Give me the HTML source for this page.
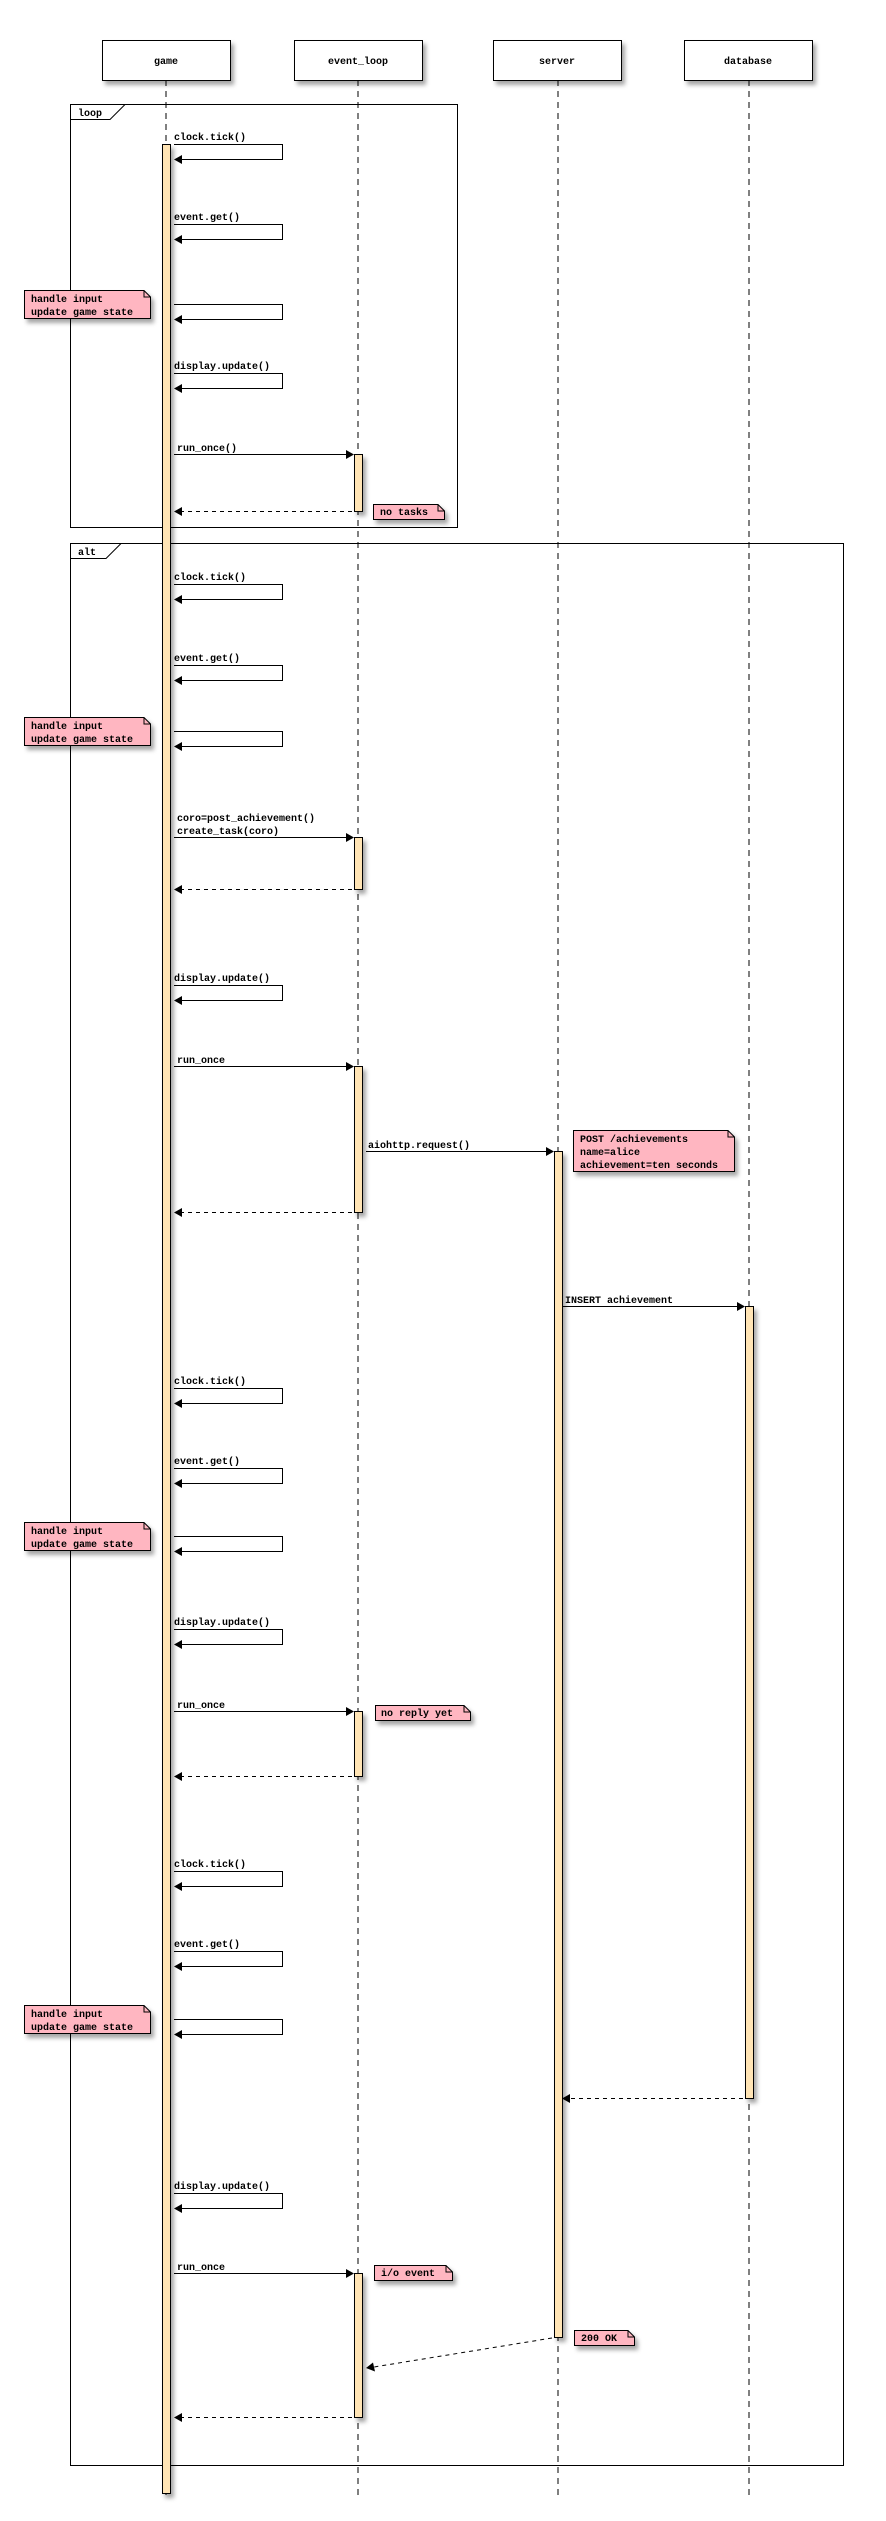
<!DOCTYPE html>
<html><head><meta charset="utf-8"><style>
html,body{margin:0;padding:0;background:#fff}
svg{display:block}
text{font-family:"Liberation Mono",monospace;font-weight:bold;font-size:10px;fill:#000}
</style></head><body>
<svg width="886" height="2521" viewBox="0 0 886 2521" xmlns="http://www.w3.org/2000/svg">
<defs>
<filter id="sh" x="-10%" y="-10%" width="130%" height="160%"><feDropShadow dx="3" dy="4" stdDeviation="2" flood-color="#000" flood-opacity="0.35"/></filter>
</defs>
<!-- lifelines -->
<g stroke="#000" stroke-width="1" stroke-dasharray="6,5">
<line x1="166" y1="80" x2="166" y2="2500"/>
<line x1="358" y1="80" x2="358" y2="2500"/>
<line x1="558" y1="80" x2="558" y2="2500"/>
<line x1="749" y1="80" x2="749" y2="2500"/>
</g>
<!-- participants -->
<g fill="#fff" stroke="#000" stroke-width="1" filter="url(#sh)">
<rect x="102.5" y="40.5" width="128" height="40"/>
<rect x="294.5" y="40.5" width="128" height="40"/>
<rect x="493.5" y="40.5" width="128" height="40"/>
<rect x="684.5" y="40.5" width="128" height="40"/>
</g>
<g text-anchor="middle">
<text x="166" y="64">game</text>
<text x="358" y="64">event_loop</text>
<text x="557" y="64">server</text>
<text x="748" y="64">database</text>
</g>
<!-- frames -->
<g fill="none" stroke="#000" stroke-width="1">
<rect x="70.5" y="104.5" width="387" height="423"/>
<path d="M70.5 119.5 H110 L125 104.5"/>
<rect x="70.5" y="543.5" width="773" height="1922"/>
<path d="M70.5 558.5 H106 L121 543.5"/>
</g>
<text x="78" y="116">loop</text>
<text x="78" y="555">alt</text>
<!-- activations -->
<g fill="#ffe4b5" stroke="#000" stroke-width="1" filter="url(#sh)">
<rect x="162.5" y="144.5" width="8" height="2349"/>
<rect x="354.5" y="454.5" width="8" height="57"/>
<rect x="354.5" y="837.5" width="8" height="52"/>
<rect x="354.5" y="1066.5" width="8" height="146"/>
<rect x="354.5" y="1711.5" width="8" height="65"/>
<rect x="354.5" y="2273.5" width="8" height="144"/>
<rect x="554.5" y="1151.5" width="8" height="1186"/>
<rect x="745.5" y="1306.5" width="8" height="792"/>
</g>
<!-- self arrows -->
<g fill="none" stroke="#000" stroke-width="1">
<path d="M174 144.5H282.5V159.5H180"/>
<path d="M174 224.5H282.5V239.5H180"/>
<path d="M174 304.5H282.5V319.5H180"/>
<path d="M174 373.5H282.5V388.5H180"/>
<path d="M174 584.5H282.5V599.5H180"/>
<path d="M174 665.5H282.5V680.5H180"/>
<path d="M174 731.5H282.5V746.5H180"/>
<path d="M174 985.5H282.5V1000.5H180"/>
<path d="M174 1388.5H282.5V1403.5H180"/>
<path d="M174 1468.5H282.5V1483.5H180"/>
<path d="M174 1536.5H282.5V1551.5H180"/>
<path d="M174 1629.5H282.5V1644.5H180"/>
<path d="M174 1871.5H282.5V1886.5H180"/>
<path d="M174 1951.5H282.5V1966.5H180"/>
<path d="M174 2019.5H282.5V2034.5H180"/>
<path d="M174 2193.5H282.5V2208.5H180"/>
</g>
<g fill="#000">
<polygon points="174,159.5 182,155 182,164"/>
<polygon points="174,239.5 182,235 182,244"/>
<polygon points="174,319.5 182,315 182,324"/>
<polygon points="174,388.5 182,384 182,393"/>
<polygon points="174,599.5 182,595 182,604"/>
<polygon points="174,680.5 182,676 182,685"/>
<polygon points="174,746.5 182,742 182,751"/>
<polygon points="174,1000.5 182,996 182,1005"/>
<polygon points="174,1403.5 182,1399 182,1408"/>
<polygon points="174,1483.5 182,1479 182,1488"/>
<polygon points="174,1551.5 182,1547 182,1556"/>
<polygon points="174,1644.5 182,1640 182,1649"/>
<polygon points="174,1886.5 182,1882 182,1891"/>
<polygon points="174,1966.5 182,1962 182,1971"/>
<polygon points="174,2034.5 182,2030 182,2039"/>
<polygon points="174,2208.5 182,2204 182,2213"/>
</g>
<g>
<text x="174" y="140">clock.tick()</text>
<text x="174" y="220">event.get()</text>
<text x="174" y="369">display.update()</text>
<text x="174" y="580">clock.tick()</text>
<text x="174" y="661">event.get()</text>
<text x="174" y="981">display.update()</text>
<text x="174" y="1384">clock.tick()</text>
<text x="174" y="1464">event.get()</text>
<text x="174" y="1625">display.update()</text>
<text x="174" y="1867">clock.tick()</text>
<text x="174" y="1947">event.get()</text>
<text x="174" y="2189">display.update()</text>
</g>
<!-- forward arrows -->
<g stroke="#000" stroke-width="1">
<line x1="174" y1="454.5" x2="346" y2="454.5"/>
<line x1="174" y1="837.5" x2="346" y2="837.5"/>
<line x1="174" y1="1066.5" x2="346" y2="1066.5"/>
<line x1="174" y1="1711.5" x2="346" y2="1711.5"/>
<line x1="174" y1="2273.5" x2="346" y2="2273.5"/>
<line x1="366" y1="1151.5" x2="546" y2="1151.5"/>
<line x1="563" y1="1306.5" x2="737" y2="1306.5"/>
</g>
<g fill="#000">
<polygon points="354,454.5 346,450 346,459"/>
<polygon points="354,837.5 346,833 346,842"/>
<polygon points="354,1066.5 346,1062 346,1071"/>
<polygon points="354,1711.5 346,1707 346,1716"/>
<polygon points="354,2273.5 346,2269 346,2278"/>
<polygon points="554,1151.5 546,1147 546,1156"/>
<polygon points="745,1306.5 737,1302 737,1311"/>
</g>
<text x="177" y="451">run_once()</text>
<text x="177" y="821">coro=post_achievement()</text>
<text x="177" y="834">create_task(coro)</text>
<text x="177" y="1063">run_once</text>
<text x="177" y="1708">run_once</text>
<text x="177" y="2270">run_once</text>
<text x="368" y="1148">aiohttp.request()</text>
<text x="565" y="1303">INSERT achievement</text>
<!-- returns -->
<g stroke="#000" stroke-width="1" stroke-dasharray="4,4">
<line x1="352" y1="511.5" x2="182" y2="511.5"/>
<line x1="352" y1="889.5" x2="182" y2="889.5"/>
<line x1="352" y1="1212.5" x2="182" y2="1212.5"/>
<line x1="352" y1="1776.5" x2="182" y2="1776.5"/>
<line x1="352" y1="2417.5" x2="182" y2="2417.5"/>
<line x1="743" y1="2098.5" x2="570" y2="2098.5"/>
<line x1="552" y1="2338" x2="374" y2="2367"/>
</g>
<g fill="#000">
<polygon points="174,511.5 182,507 182,516"/>
<polygon points="174,889.5 182,885 182,894"/>
<polygon points="174,1212.5 182,1208 182,1217"/>
<polygon points="174,1776.5 182,1772 182,1781"/>
<polygon points="174,2417.5 182,2413 182,2422"/>
<polygon points="562,2098.5 570,2094 570,2103"/>
<polygon points="366,2368 373,2362.5 375,2371.5"/>
</g>
<!-- notes -->
<g fill="#ffb6c1" stroke="#000" stroke-width="1" filter="url(#sh)">
<path d="M24.5 290.5H144L150.5 297V318.5H24.5Z"/>
<path d="M24.5 717.5H144L150.5 724V745.5H24.5Z"/>
<path d="M24.5 1522.5H144L150.5 1529V1550.5H24.5Z"/>
<path d="M24.5 2005.5H144L150.5 2012V2033.5H24.5Z"/>
<path d="M373.5 504.5H438L444.5 511V519.5H373.5Z"/>
<path d="M573.5 1130.5H728L734.5 1137V1171.5H573.5Z"/>
<path d="M375.5 1705.5H464L470.5 1712V1720.5H375.5Z"/>
<path d="M374.5 2265.5H446L452.5 2272V2280.5H374.5Z"/>
<path d="M574.5 2330.5H628L634.5 2337V2345.5H574.5Z"/>
</g>
<g fill="none" stroke="#000" stroke-width="1">
<path d="M144 290.5V297H150.5"/>
<path d="M144 717.5V724H150.5"/>
<path d="M144 1522.5V1529H150.5"/>
<path d="M144 2005.5V2012H150.5"/>
<path d="M438 504.5V511H444.5"/>
<path d="M728 1130.5V1137H734.5"/>
<path d="M464 1705.5V1712H470.5"/>
<path d="M446 2265.5V2272H452.5"/>
<path d="M628 2330.5V2337H634.5"/>
</g>
<text x="31" y="302">handle input</text>
<text x="31" y="315">update game state</text>
<text x="31" y="729">handle input</text>
<text x="31" y="742">update game state</text>
<text x="31" y="1534">handle input</text>
<text x="31" y="1547">update game state</text>
<text x="31" y="2017">handle input</text>
<text x="31" y="2030">update game state</text>
<text x="380" y="515">no tasks</text>
<text x="580" y="1142">POST /achievements</text>
<text x="580" y="1155">name=alice</text>
<text x="580" y="1168">achievement=ten seconds</text>
<text x="381" y="1716">no reply yet</text>
<text x="381" y="2276">i/o event</text>
<text x="581" y="2341">200 OK</text>
</svg>
</body></html>
